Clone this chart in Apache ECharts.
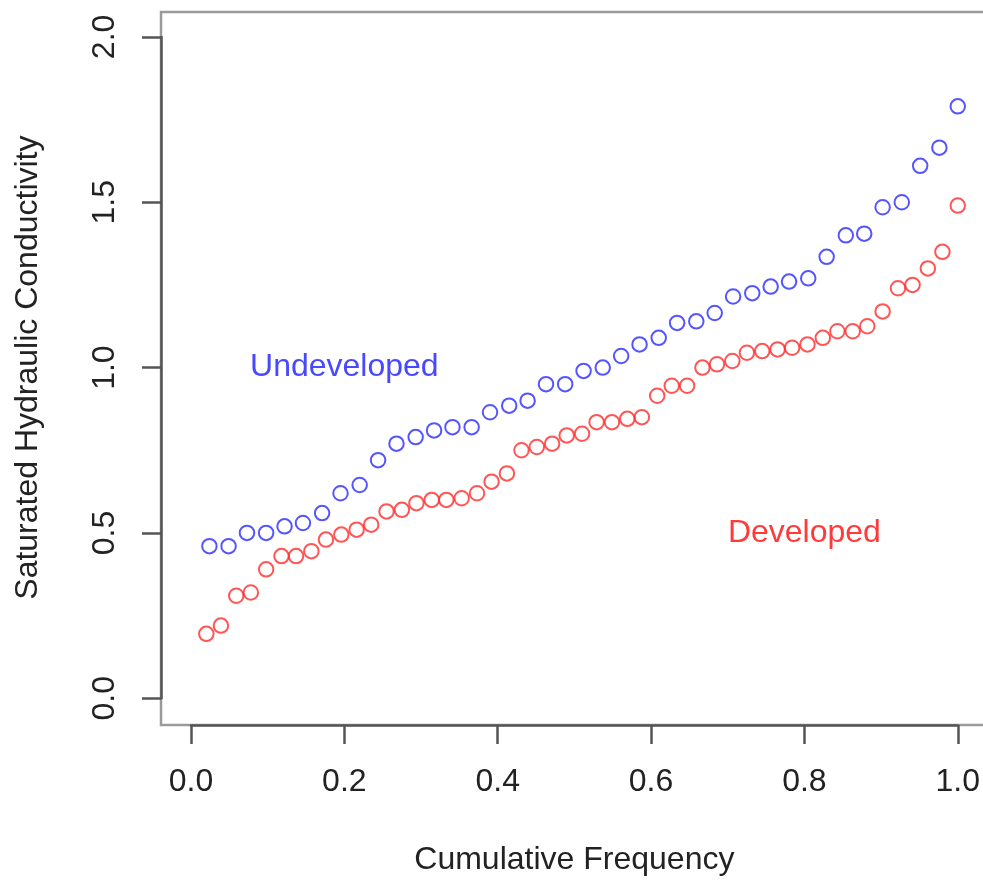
<!DOCTYPE html>
<html>
<head>
<meta charset="utf-8">
<script src="https://cdn.jsdelivr.net/npm/echarts@6/dist/echarts.min.js"></script>
<style>
html,body{margin:0;padding:0;background:#fff;}
#chart{width:983px;height:882px;}
</style>
</head>
<body>
<div id="chart"></div>
<script>
// Undeveloped (blue) cumulative frequency and conductivity
const undevFreq = [0.024,0.049,0.073,0.098,0.122,0.146,0.171,0.195,0.220,0.244,0.268,0.293,0.317,0.341,0.366,0.390,0.415,0.439,0.463,0.488,0.512,0.537,0.561,0.585,0.610,0.634,0.659,0.683,0.707,0.732,0.756,0.780,0.805,0.829,0.854,0.878,0.902,0.927,0.951,0.976,1.000];
const undevK = [0.46,0.46,0.50,0.50,0.52,0.53,0.56,0.62,0.645,0.72,0.77,0.79,0.81,0.82,0.82,0.865,0.885,0.90,0.95,0.95,0.99,1.00,1.035,1.07,1.09,1.135,1.14,1.165,1.215,1.225,1.245,1.26,1.27,1.335,1.40,1.405,1.485,1.50,1.61,1.665,1.79];
// Developed (red)
const devFreq = [0.020,0.039,0.059,0.078,0.098,0.118,0.137,0.157,0.176,0.196,0.216,0.235,0.255,0.275,0.294,0.314,0.333,0.353,0.373,0.392,0.412,0.431,0.451,0.471,0.490,0.510,0.529,0.549,0.569,0.588,0.608,0.627,0.647,0.667,0.686,0.706,0.725,0.745,0.765,0.784,0.804,0.824,0.843,0.863,0.882,0.902,0.922,0.941,0.961,0.980,1.000];
const devK = [0.195,0.22,0.31,0.32,0.39,0.43,0.43,0.445,0.48,0.495,0.51,0.525,0.565,0.57,0.59,0.60,0.60,0.605,0.62,0.655,0.68,0.75,0.76,0.77,0.795,0.80,0.835,0.835,0.845,0.85,0.915,0.945,0.945,1.00,1.01,1.02,1.045,1.05,1.055,1.06,1.07,1.09,1.11,1.11,1.125,1.17,1.24,1.25,1.30,1.35,1.49];
const xTicks = [0.0,0.2,0.4,0.6,0.8,1.0];
const yTicks = [0.0,0.5,1.0,1.5,2.0];
const labels = [
  {text:'Undeveloped', x:0.2, y:1.0},
  {text:'Developed', x:0.8, y:0.5}
];
const xTitle = 'Cumulative Frequency';
const yTitle = 'Saturated Hydraulic Conductivity';

const BLUE = '#2b2bff', RED = '#ff2b2b';
const FONT = 'Liberation Sans, Arial, sans-serif';

const chart = echarts.init(document.getElementById('chart'), null, {renderer:'canvas'});
chart.setOption({
  animation:false,
  backgroundColor:'#ffffff',
  grid:{left:191, top:36.9, width:767.5, height:661.4},
  xAxis:{
    type:'value', min:xTicks[0], max:xTicks[xTicks.length-1], interval:0.2,
    offset:26.7,
    axisLine:{show:true, onZero:false, lineStyle:{color:'#555', width:2.5}},
    axisTick:{show:true, length:19, lineStyle:{color:'#555', width:2.5}},
    splitLine:{show:false},
    axisLabel:{margin:41, fontSize:32, color:'#222', fontFamily:FONT,
      formatter:v=>v.toFixed(1)},
    name:xTitle, nameLocation:'middle', nameGap:119,
    nameTextStyle:{fontSize:32, color:'#222', fontFamily:FONT}
  },
  yAxis:{
    type:'value', min:yTicks[0], max:yTicks[yTicks.length-1], interval:0.5,
    offset:30,
    axisLine:{show:true, onZero:false, lineStyle:{color:'#555', width:2.5}},
    axisTick:{show:true, length:19, lineStyle:{color:'#555', width:2.5}},
    splitLine:{show:false},
    axisLabel:{margin:40, fontSize:32, color:'#222', fontFamily:FONT, rotate:90,
      formatter:v=>v.toFixed(1)},
    name:yTitle, nameLocation:'middle', nameGap:117,
    nameTextStyle:{fontSize:32, color:'#222', fontFamily:FONT}
  },
  graphic:[{
    type:'rect', z:-1, silent:true,
    shape:{x:161, y:12, width:829, height:713},
    style:{fill:'none', stroke:'#9a9a9a', lineWidth:2.5}
  }],
  series:[
    {
      name:'Undeveloped', type:'scatter',
      data:undevFreq.map((x,i)=>[x, undevK[i]]),
      symbol:'circle', symbolSize:14.5,
      itemStyle:{color:'transparent', borderColor:BLUE, borderWidth:2},
      markPoint:{
        symbol:'circle', symbolSize:0.1,
        itemStyle:{color:'transparent'},
        label:{show:true, position:'inside', fontSize:32, color:'#4848ff', fontFamily:FONT,
          formatter:p=>p.name},
        data:[{name:labels[0].text, coord:[labels[0].x, labels[0].y]}]
      }
    },
    {
      name:'Developed', type:'scatter',
      data:devFreq.map((x,i)=>[x, devK[i]]),
      symbol:'circle', symbolSize:14.5,
      itemStyle:{color:'transparent', borderColor:RED, borderWidth:2},
      markPoint:{
        symbol:'circle', symbolSize:0.1,
        itemStyle:{color:'transparent'},
        label:{show:true, position:'inside', fontSize:32, color:'#ff3a3a', fontFamily:FONT,
          formatter:p=>p.name},
        data:[{name:labels[1].text, coord:[labels[1].x, labels[1].y]}]
      }
    }
  ]
});
</script>
</body>
</html>
